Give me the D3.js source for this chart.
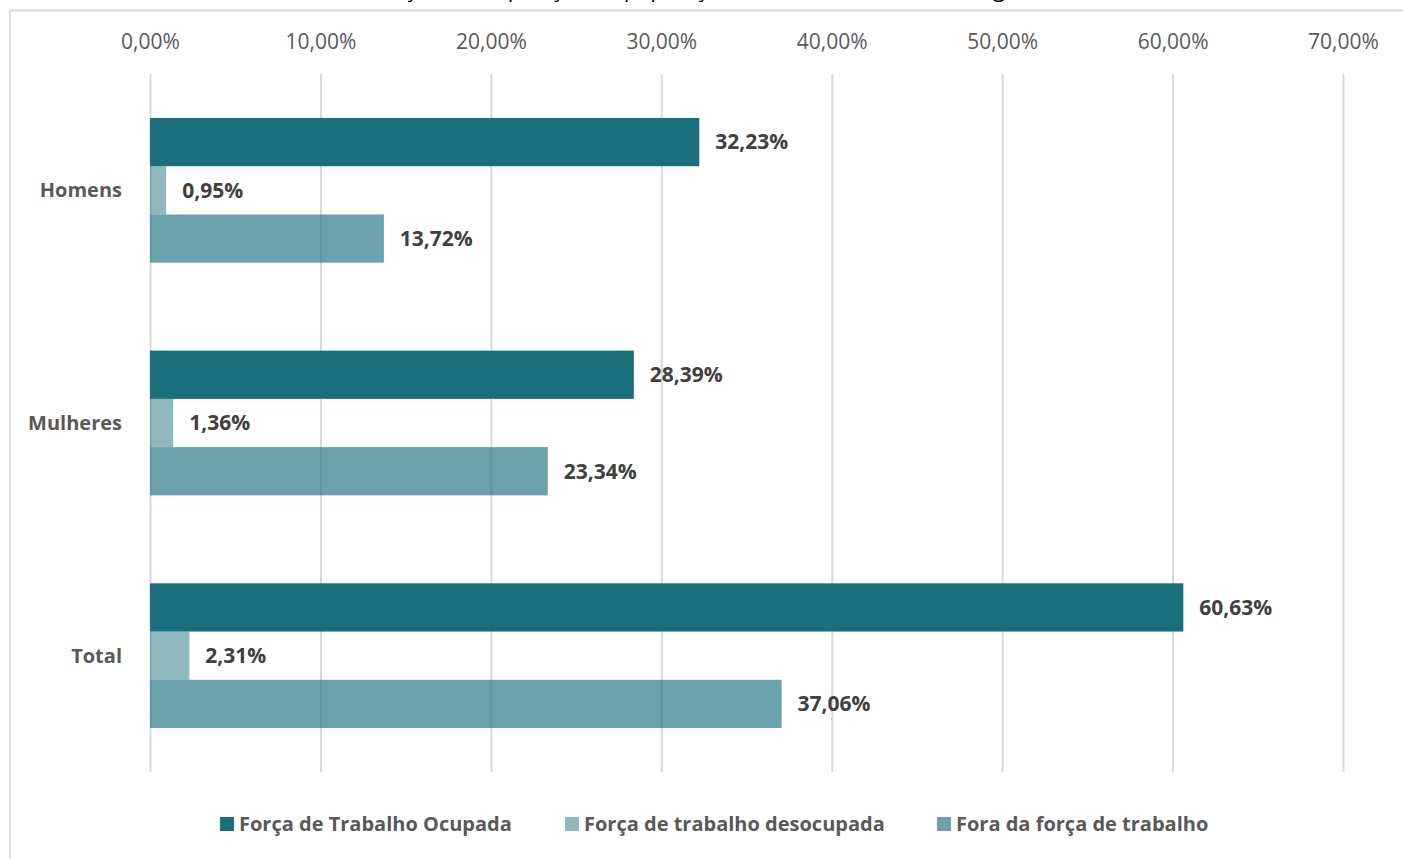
<!DOCTYPE html>
<html>
<head>
<meta charset="utf-8">
<script src="https://cdn.jsdelivr.net/npm/d3@7"></script>
<style>
  body { margin: 0; background: #fff; }
  text { font-family: "Open Sans", "Noto Sans", sans-serif; }
</style>
</head>
<body>
<div id="chart_container"></div>
<script>
// data
const categories = ["Homens", "Mulheres", "Total"];
const seriesNames = ["Força de Trabalho Ocupada", "Força de trabalho desocupada", "Fora da força de trabalho"];
const ocupada = [32.23, 28.39, 60.63];
const desocupada = [0.95, 1.36, 2.31];
const fora = [13.72, 23.34, 37.06];
const xTicks = [0, 10, 20, 30, 40, 50, 60, 70];

const w = 1403, h = 859;
const margin = {top: 74, left: 150, right: 60, bottom: 87};
const baseColor = "#1b6e7c";
const seriesOpacity = [1, 0.49, 0.65];

const fmt = v => d3.format(".2f")(v).replace(".", ",") + "%";

const svg = d3.select("#chart_container").append("svg")
    .attr("width", w)
    .attr("height", h);

// chart frame (runs off the right and bottom of the picture)
svg.append("rect")
    .attr("x", 10).attr("y", 10.5)
    .attr("width", 1420).attr("height", 900)
    .attr("fill", "none")
    .attr("stroke", "#d9d9d9")
    .attr("stroke-width", 2);

// cut off title at the very top
svg.append("text")
    .attr("x", 690).attr("y", -3)
    .attr("text-anchor", "middle")
    .attr("font-size", 22)
    .attr("fill", "#000")
    .text("Gráfico 1 - Distribuição e composição da população em idade de trabalhar segundo sexo, 2019");

const xScale = d3.scaleLinear()
    .domain([0, 70])
    .range([margin.left, w - margin.right]);

const yScale = d3.scaleBand()
    .domain(categories)
    .range([margin.top, h - margin.bottom])
    .paddingInner(0.378)
    .paddingOuter(0.189);

const ySub = d3.scaleBand()
    .domain(d3.range(3))
    .range([0, yScale.bandwidth()]);

// gridlines + top tick labels
const xAxis = d3.axisTop(xScale)
    .tickValues(xTicks)
    .tickSize(-(h - margin.bottom - margin.top))
    .tickFormat(d => fmt(d));

const gx = svg.append("g")
    .attr("transform", "translate(0," + margin.top + ")")
    .call(xAxis);
gx.select(".domain").remove();
gx.selectAll(".tick line").attr("stroke", "#d9d9d9").attr("stroke-width", 2);
gx.selectAll(".tick text")
    .attr("y", -32)
    .attr("dy", "0.35em")
    .attr("font-size", 21)
    .attr("fill", "#595959");

// category labels
svg.append("g").selectAll("text")
    .data(categories)
    .enter()
    .append("text")
    .attr("x", 122)
    .attr("y", d => yScale(d) + yScale.bandwidth() / 2)
    .attr("dy", "0.35em")
    .attr("text-anchor", "end")
    .attr("font-size", 20)
    .attr("font-weight", "bold")
    .attr("fill", "#595959")
    .text(d => d);

// bars
const series = [ocupada, desocupada, fora];
const rows = [];
series.forEach((vals, s) => vals.forEach((v, i) => rows.push({s: s, cat: categories[i], v: v})));

svg.append("g").selectAll("rect")
    .data(rows)
    .enter()
    .append("rect")
    .attr("x", xScale(0))
    .attr("y", d => yScale(d.cat) + ySub(d.s))
    .attr("width", d => xScale(d.v) - xScale(0))
    .attr("height", ySub.bandwidth())
    .attr("fill", baseColor)
    .attr("fill-opacity", d => seriesOpacity[d.s]);

svg.append("g").selectAll("text")
    .data(rows)
    .enter()
    .append("text")
    .attr("x", d => xScale(d.v) + 16)
    .attr("y", d => yScale(d.cat) + ySub(d.s) + ySub.bandwidth() / 2)
    .attr("dy", "0.35em")
    .attr("font-size", 21)
    .attr("font-weight", "bold")
    .attr("fill", "#404040")
    .text(d => fmt(d.v));

// legend
const legendX = [220, 565, 937];
const legend = svg.append("g").selectAll("g")
    .data(seriesNames)
    .enter()
    .append("g")
    .attr("transform", (d, i) => "translate(" + legendX[i] + ",817)");
legend.append("rect")
    .attr("width", 14).attr("height", 14)
    .attr("fill", baseColor)
    .attr("fill-opacity", (d, i) => seriesOpacity[i]);
legend.append("text")
    .attr("x", 19).attr("y", 7)
    .attr("dy", "0.35em")
    .attr("font-size", 20)
    .attr("font-weight", "bold")
    .attr("fill", "#595959")
    .text(d => d);
</script>
</body>
</html>
